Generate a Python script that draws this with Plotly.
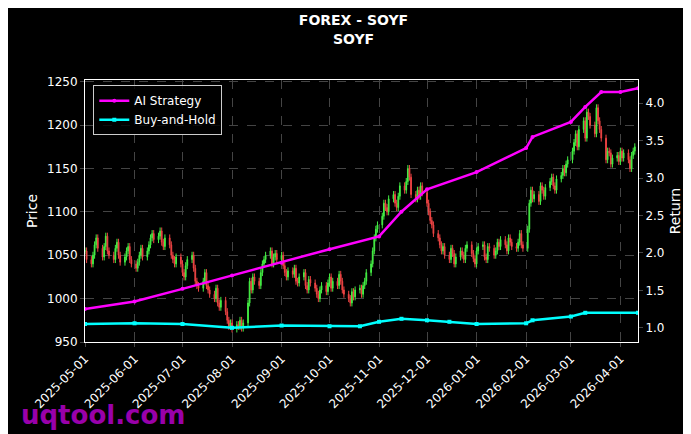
import pandas as pd
import plotly.graph_objects as go

closes = [1055,1045,
1040,1050,1062,1070,1058, 1048,1060,1072,1055,1050, 1045,1058,1065,1050,1042, 1048,1055,1060,1045,1040,
1035,1042,1050,1058,1048, 1055,1062,1070,1075,1068, 1072,1078,1065,1060,1070, 1062,1050,1045,1040,1048,
1040,1030,1025,1038,1045, 1050,1035,1020,1015,1012, 1020,1030,1015,1010,1005, 1000,1012,995,990,998,
985,975,968,972,965, 970,968,975,966,972, 995,1020,1010,1025,1020, 1015,1030,1040,1045,1050,
1055,1040,1048,1052,1045, 1050,1038,1030,1025,1032, 1028,1035,1020,1018,1025, 1030,1015,1010,1022,1018,
1012,1005,1000,1010,1015, 1008,1018,1025,1012,1020, 1015,1028,1020,1010,1005, 1000,995,1008,1002,1010,
1012,1005,1015,1020,1030, 1040,1055,1070,1080,1085, 1095,1110,1105,1100,1115, 1120,1110,1105,1118,1130,
1125,1135,1150,1140,1120, 1115,1125,1118,1130,1122, 1110,1100,1090,1085,1075, 1070,1062,1055,1060,1050,
1045,1058,1052,1040,1048, 1055,1050,1045,1058,1062, 1052,1046,1040,1055,1060, 1062,1048,1045,1060,1058,
1050,1055,1065,1060,1068, 1062,1055,1070,1065,1060, 1058,1065,1075,1062,1058, 1080,1110,1125,1115,1120,
1112,1130,1125,1118,1128, 1135,1140,1130,1125,1138, 1142,1150,1145,1155,1160, 1170,1180,1190,1175,1195,
1205,1185,1215,1210,1200, 1190,1220,1205,1195,1185, 1160,1170,1168,1155,1162, 1165,1158,1170,1162,1168,
1160,1150,1165,1170,1175]
wick = 4

strat_dates = ["2025-05-01","2025-06-01","2025-07-01","2025-08-01","2025-09-01","2025-10-01","2025-11-01",
               "2025-11-15","2025-12-01","2026-01-01","2026-02-01","2026-02-05","2026-03-01","2026-03-10",
               "2026-03-20","2026-04-01","2026-04-12"]
strat_vals = [1.25,1.35,1.52,1.70,1.87,2.05,2.22,2.55,2.85,3.08,3.40,3.55,3.75,3.95,4.15,4.15,4.20]
bh_dates = ["2025-05-01","2025-06-01","2025-07-01","2025-08-01","2025-09-01","2025-10-01","2025-10-20",
            "2025-11-01","2025-11-15","2025-12-01","2025-12-15","2026-01-01","2026-02-01","2026-02-05",
            "2026-03-01","2026-03-10","2026-04-12"]
bh_vals = [1.05,1.06,1.05,1.00,1.03,1.02,1.02,1.08,1.12,1.10,1.08,1.05,1.06,1.10,1.15,1.20,1.20]

dates = pd.bdate_range("2025-05-01", periods=len(closes))
opens = [closes[0]] + closes[:-1]
highs = [max(o, c) + wick for o, c in zip(opens, closes)]
lows = [min(o, c) - wick for o, c in zip(opens, closes)]

fig = go.Figure()
fig.add_trace(go.Candlestick(x=dates, open=opens, high=highs, low=lows, close=closes,
    increasing=dict(line=dict(color="#44ee44", width=1), fillcolor="#44ee44"),
    decreasing=dict(line=dict(color="#ee4444", width=1), fillcolor="#ee4444"),
    showlegend=False, whiskerwidth=0))
fig.add_trace(go.Scatter(x=strat_dates, y=strat_vals, yaxis="y2", name="AI Strategy",
    mode="lines+markers", line=dict(color="#ff00ff", width=2.5), marker=dict(size=4)))
fig.add_trace(go.Scatter(x=bh_dates, y=bh_vals, yaxis="y2", name="Buy-and-Hold",
    mode="lines+markers", line=dict(color="#00ffff", width=2.5), marker=dict(size=4, symbol="square")))

grid = dict(showgrid=True, gridcolor="#444", griddash="dash", gridwidth=0.5)
fig.update_layout(
    width=691, height=434, paper_bgcolor="black", plot_bgcolor="black",
    font=dict(family="DejaVu Sans", color="white", size=12),
    title=dict(text="<b>FOREX - SOYF<br>SOYF</b>", x=0.5, y=0.96, xanchor="center", font=dict(size=14)),
    margin=dict(l=77, r=61, t=72, b=100, autoexpand=False),
    xaxis=dict(range=["2025-05-01","2026-04-12"], rangeslider=dict(visible=False), tickangle=-45,
               tickformat="%Y-%m-%d", dtick="M1", tick0="2025-05-01", ticks="outside", ticklen=4,
               showline=True, linecolor="white", mirror=True, automargin=False, **grid),
    yaxis=dict(title=dict(text="Price", standoff=6), range=[950, 1252], dtick=50, ticks="outside", ticklen=4,
               showline=True, linecolor="white", mirror=True, automargin=False, **grid),
    yaxis2=dict(title=dict(text="Return", standoff=6), overlaying="y", side="right", range=[0.81, 4.31], dtick=0.5,
                tickformat=".1f", ticks="outside", ticklen=4, showgrid=False, automargin=False),
    legend=dict(x=0.015, y=0.98, bgcolor="rgba(0,0,0,0.8)", bordercolor="#ccc", borderwidth=1),
)
fig.add_annotation(text="<b>uqtool.com</b>", xref="paper", yref="paper", x=-0.12, y=-0.28,
                   xanchor="left", yanchor="middle", showarrow=False,
                   font=dict(size=26, color="#9900aa"))
fig.write_html("out.html")
